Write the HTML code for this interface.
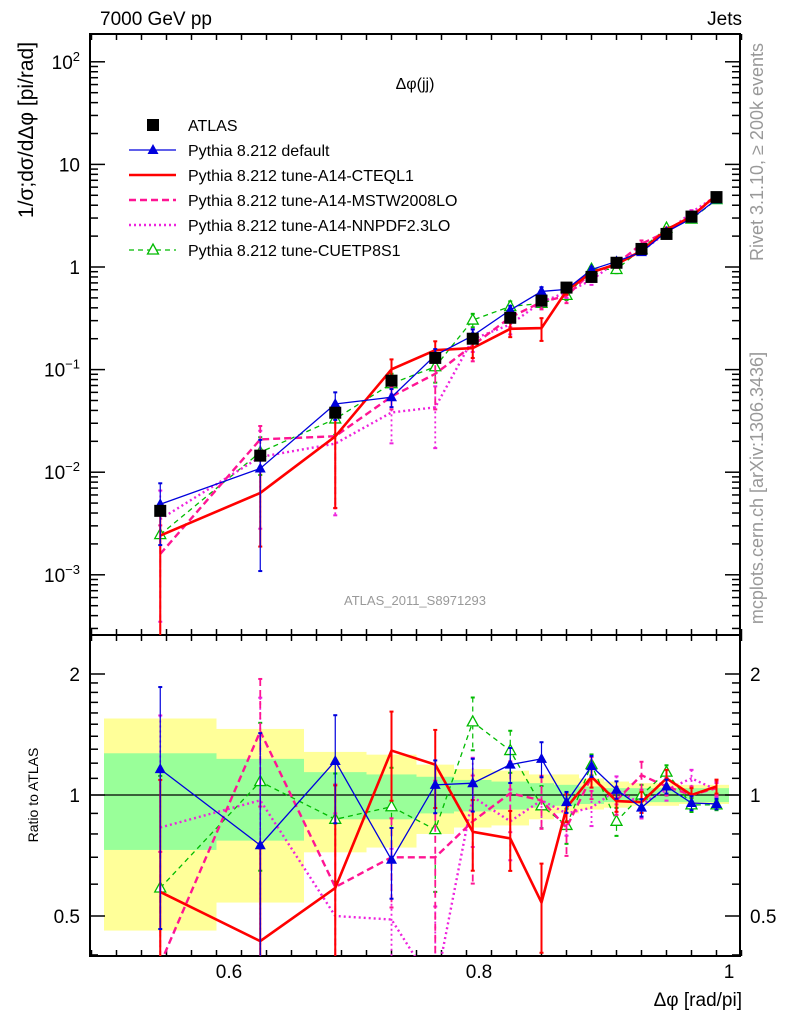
<!DOCTYPE html>
<html><head><meta charset="utf-8"><style>
html,body{margin:0;padding:0;background:#fff;width:786px;height:1024px;overflow:hidden;}
svg{display:block;font-family:"Liberation Sans",sans-serif;}
</style></head><body>
<svg id="chart" width="786" height="1024" viewBox="0 0 786 1024" xmlns="http://www.w3.org/2000/svg">
<g id="bands"></g>
<g id="grid"></g>
<g id="series"></g>
<text x="100" y="25" font-size="19">7000 GeV pp</text>
<text x="742" y="25" font-size="19" text-anchor="end">Jets</text>
<text x="415" y="89" font-size="16" text-anchor="middle">Δφ(jj)</text>
<text x="415" y="605" font-size="13" fill="#999" text-anchor="middle">ATLAS_2011_S8971293</text>
<text transform="translate(33,130) rotate(-90)" font-size="21" text-anchor="middle">1/σ;dσ/dΔφ [pi/rad]</text>
<text transform="translate(38,795) rotate(-90)" font-size="14" text-anchor="middle">Ratio to ATLAS</text>
<text x="742" y="1006" font-size="19" text-anchor="end">Δφ [rad/pi]</text>
<text transform="translate(763,152) rotate(-90)" font-size="18" fill="#999" text-anchor="middle">Rivet 3.1.10, ≥ 200k events</text>
<text transform="translate(763,488) rotate(-90)" font-size="18" fill="#999" text-anchor="middle">mcplots.cern.ch [arXiv:1306.3436]</text>
<g id="legend"></g>
</svg>
<script>
const binEdges=[0.5,0.59,0.66,0.71,0.75,0.78,0.81,0.84,0.86,0.88,0.9,0.92,0.94,0.96,0.98,1.0];
const xCenters=[0.545,0.625,0.685,0.73,0.765,0.795,0.825,0.85,0.87,0.89,0.91,0.93,0.95,0.97,0.99];
const atlasValues=[4.2e-3,1.45e-2,3.8e-2,7.8e-2,0.13,0.2,0.32,0.47,0.63,0.8,1.1,1.5,2.1,3.1,4.8];
const statUp=[1.27,1.23,1.14,1.125,1.11,1.09,1.08,1.07,1.06,1.05,1.04,1.04,1.04,1.04,1.04];
const statDn=[0.73,0.77,0.87,0.87,0.9,0.91,0.92,0.93,0.94,0.95,0.96,0.96,0.96,0.96,0.96];
const totUp=[1.55,1.46,1.28,1.26,1.19,1.16,1.15,1.125,1.125,1.1,1.08,1.07,1.07,1.06,1.06];
const totDn=[0.46,0.54,0.72,0.74,0.8,0.83,0.84,0.87,0.9,0.92,0.93,0.94,0.94,0.95,0.95];
const ratioDefault=[1.16,0.75,1.215,0.69,1.06,1.07,1.19,1.23,0.96,1.18,1.03,0.93,1.05,0.955,0.95];
const ratioCTEQ=[0.574,0.433,0.587,1.29,1.19,0.81,0.78,0.54,0.93,1.11,0.966,0.96,1.1,1.0,1.05];
const ratioMSTW=[0.38,1.44,0.59,0.70,0.70,0.86,1.01,0.97,0.83,1.11,0.97,1.12,1.05,1.0,1.04];
const ratioNNPDF=[0.83,0.97,0.5,0.49,0.33,0.99,0.86,0.97,0.9,0.93,1.03,0.95,1.03,1.1,1.03];
const ratioCUETP=[0.587,1.08,0.87,0.935,0.82,1.52,1.29,0.94,0.84,1.19,0.86,1.0,1.14,0.945,0.945];
const errDefault=[0.6,0.9,0.3,0.2,0.15,0.15,0.1,0.1,0.06,0.06,0.05,0.05,0.04,0.04,0.03];
const errCTEQ=[0.9,0.7,0.8,0.25,0.22,0.2,0.17,0.25,0.08,0.06,0.06,0.06,0.05,0.04,0.04];
const errMSTW=[0.9,0.35,0.8,0.25,0.55,0.3,0.2,0.15,0.15,0.12,0.08,0.08,0.05,0.05,0.04];
const errNNPDF=[0.9,0.8,0.8,0.5,0.6,0.25,0.2,0.15,0.12,0.1,0.08,0.08,0.06,0.05,0.04];
const errCUETP=[0.9,0.4,0.3,0.25,0.3,0.15,0.12,0.12,0.1,0.06,0.08,0.06,0.04,0.04,0.03];
const yTickLabels=["10^-3","10^-2","10^-1","1","10","10^2"];
const ratioTickLabels=["0.5","1","2"];
const xTickLabels=["0.6","0.8","1"];

const NS="http://www.w3.org/2000/svg";
const L=90,R=740,T=34,MB=635,RB=956;
const xS=v=>229+(v-0.6)*1250;
const yM=v=>267-102.6*Math.log10(v);
const yR=r=>795-121*Math.log2(r);
function mk(tag,attrs,parent){const e=document.createElementNS(NS,tag);for(const k in attrs)e.setAttribute(k,attrs[k]);parent.appendChild(e);return e;}
const bands=document.getElementById('bands'),grid=document.getElementById('grid'),ser=document.getElementById('series'),leg=document.getElementById('legend');
for(let i=0;i<xCenters.length;i++){
  const x0=xS(binEdges[i]),x1=xS(binEdges[i+1]);
  const a=mk('rect',{x:x0,width:x1-x0,y:yR(totUp[i]),height:yR(totDn[i])-yR(totUp[i]),fill:'#ffff99'},bands);
  
  
  const b=mk('rect',{x:x0,width:x1-x0,y:yR(statUp[i]),height:yR(statDn[i])-yR(statUp[i]),fill:'#99ff99'},bands);
  
  
}
mk('rect',{x:L,y:T,width:R-L,height:MB-T,fill:'none',stroke:'#000','stroke-width':2},grid);
mk('rect',{x:L,y:MB,width:R-L,height:RB-MB,fill:'none',stroke:'#000','stroke-width':2},grid);
mk('line',{x1:L,x2:R,y1:yR(1),y2:yR(1),stroke:'#000','stroke-width':1.2},grid);
for(let k=0;k<=26;k++){const v=0.49+k*0.02;const vv=Math.round(v*100)/100;if(vv<0.49||vv>1.01)continue;const x=xS(vv);const major=Math.abs(vv*10-Math.round(vv*10))<1e-6&&Math.round(vv*10)%2==0;const len=major?12:6;
 for(const [yb,yt] of [[MB,T],[RB,MB]]){mk('line',{x1:x,x2:x,y1:yb,y2:yb-len,stroke:'#000','stroke-width':1.5},grid);mk('line',{x1:x,x2:x,y1:yt,y2:yt+len,stroke:'#000','stroke-width':1.5},grid);}}
xTickLabels.forEach(t=>{const e=mk('text',{x:xS(+t),y:978,'font-size':19,'text-anchor':'middle'},grid);e.textContent=t;});
for(let d=-4;d<=2;d++){for(let m=1;m<10;m++){const v=m*Math.pow(10,d);const y=yM(v);if(y<T||y>MB)continue;const len=m==1?15:8;mk('line',{x1:L,x2:L+len,y1:y,y2:y,stroke:'#000','stroke-width':1.5},grid);mk('line',{x1:R,x2:R-len,y1:y,y2:y,stroke:'#000','stroke-width':1.5},grid);}}
yTickLabels.forEach(t=>{const p=t.split('^');const v=p.length>1?Math.pow(10,+p[1]):+t;const y=yM(v)+7;const e=mk('text',{x:80,y:y,'font-size':19,'text-anchor':'end'},grid);
 if(p.length>1){e.textContent=p[0];const s=mk('tspan',{'font-size':13,dy:-8},e);s.textContent=p[1].replace('-','−');}else e.textContent=t;});
[0.4,0.5,0.6,0.7,0.8,0.9,1,1.1,1.2,1.3,1.4,1.5,1.6,1.7,1.8,1.9,2].forEach(r=>{const y=yR(r);const major=(r==0.5||r==1||r==2);const len=major?15:8;mk('line',{x1:L,x2:L+len,y1:y,y2:y,stroke:'#000','stroke-width':1.5},grid);mk('line',{x1:R,x2:R-len,y1:y,y2:y,stroke:'#000','stroke-width':1.5},grid);});
ratioTickLabels.forEach(t=>{for(const [x,a] of [[80,'end'],[750,'start']]){const e=mk('text',{x:x,y:yR(+t)+7,'font-size':19,'text-anchor':a},grid);e.textContent=t;}});
const clipM=mk('clipPath',{id:'cm'},ser);mk('rect',{x:L,y:T,width:R-L,height:MB-T},clipM);
const clipR=mk('clipPath',{id:'cr'},ser);mk('rect',{x:L,y:MB,width:R-L,height:RB-MB},clipR);
const gM=mk('g',{'clip-path':'url(#cm)'},ser),gR=mk('g',{'clip-path':'url(#cr)'},ser);
function marker(g,type,x,y,color){
  if(type=='tri'){mk('path',{d:`M${x},${y-6}L${x+5.5},${y+4}L${x-5.5},${y+4}Z`,fill:color},g);}
  else if(type=='otri'){mk('path',{d:`M${x},${y-6}L${x+5.5},${y+4}L${x-5.5},${y+4}Z`,fill:'#fff',stroke:color,'stroke-width':1.3},g);}
}
const seriesDefs=[
 {name:'default',ratio:ratioDefault,err:errDefault,color:'#0000dd',w:1.3,dash:'',mark:'tri',label:'Pythia 8.212 default'},
 {name:'a14-cteql1',ratio:ratioCTEQ,err:errCTEQ,color:'#ff0000',w:2.6,dash:'',mark:'',label:'Pythia 8.212 tune-A14-CTEQL1'},
 {name:'a14-mstw2008lo',ratio:ratioMSTW,err:errMSTW,color:'#ff1493',w:2.4,dash:'7,4',mark:'',label:'Pythia 8.212 tune-A14-MSTW2008LO'},
 {name:'a14-nnpdf23lo',ratio:ratioNNPDF,err:errNNPDF,color:'#ee22dd',w:2.4,dash:'2,3',mark:'',label:'Pythia 8.212 tune-A14-NNPDF2.3LO'},
 {name:'cuetp8s1',ratio:ratioCUETP,err:errCUETP,color:'#00bb00',w:1.3,dash:'5,4',mark:'otri',label:'Pythia 8.212 tune-CUETP8S1'}];
seriesDefs.slice().reverse().forEach(s=>{
  for(const [g,f] of [[gM,(i,r)=>yM(atlasValues[i]*r)],[gR,(i,r)=>yR(r)]]){
    const grp=mk('g',{},g);
    
    
    const pts=xCenters.map((x,i)=>xS(x)+','+f(i,s.ratio[i])).join(' ');
    mk('polyline',{points:pts,fill:'none',stroke:s.color,'stroke-width':s.w,'stroke-dasharray':s.dash},grp);
    xCenters.forEach((x,i)=>{const r=s.ratio[i];const up=r*(1+s.err[i]),dn=Math.max(r*(1-s.err[i]),1e-4);const X=xS(x);
      mk('line',{x1:X,x2:X,y1:f(i,up),y2:f(i,dn),stroke:s.color,'stroke-width':Math.max(1.2,s.w-0.6),'stroke-dasharray':s.dash},grp);
      mk('line',{x1:X-2,x2:X+2,y1:f(i,up),y2:f(i,up),stroke:s.color,'stroke-width':2},grp);
      mk('line',{x1:X-2,x2:X+2,y1:f(i,dn),y2:f(i,dn),stroke:s.color,'stroke-width':2},grp);
      if(s.mark)marker(grp,s.mark,X,f(i,r),s.color);});
  }
});
const dg=mk('g',{},gM);


xCenters.forEach((x,i)=>{const X=xS(x),Y=yM(atlasValues[i]);mk('rect',{x:X-6,y:Y-6,width:12,height:12,fill:'#000'},dg);});
const rows=[{label:'ATLAS',mark:'sq',color:'#000'}].concat(seriesDefs);
rows.forEach((s,k)=>{const y=125+k*25;const g=mk('g',{},leg);
  
  
  if(s.mark=='sq')mk('rect',{x:147,y:y-6,width:12,height:12,fill:'#000'},g);
  else{mk('line',{x1:129,x2:176,y1:y,y2:y,stroke:s.color,'stroke-width':s.w,'stroke-dasharray':s.dash},g);if(s.mark)marker(g,s.mark,153,y,s.color);}
  const t=mk('text',{x:188,y:y+6,'font-size':16},g);t.textContent=s.label;});
</script>
</body></html>
